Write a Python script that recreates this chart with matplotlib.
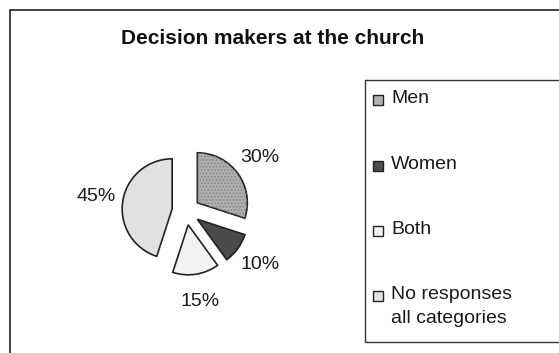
import matplotlib.pyplot as plt
from matplotlib.patches import Rectangle, Wedge

plt.rcParams['font.family'] = ['Liberation Sans', 'DejaVu Sans']
plt.rcParams['hatch.linewidth'] = 0.8

title = 'Decision makers at the church'
labels = ['Men', 'Women', 'Both', 'No responses\nall categories']
shares = [30, 10, 15, 45]
colors = ['#b0b0b0', '#4a4a4a', '#f2f2f2', '#e1e1e1']

W, H = 559, 353
fig = plt.figure(figsize=(W / 100, H / 100), dpi=100)
fig.patch.set_facecolor('white')

# outer frame, running off the right and bottom edges
fig.patches.append(Rectangle((10 / W, -0.1), 1.2, 1.1 - 10 / H,
                             transform=fig.transFigure, fill=False,
                             edgecolor='#333333', linewidth=1.3))

fig.text(273 / W, 1 - 38 / H, title, ha='center', va='center',
         fontsize=15, fontweight='bold', color='#111111')

# pie axes: radius 1 = 50 px
cx, cy = 186, 211
ax = fig.add_axes([(cx - 100) / W, 1 - (cy + 100) / H, 200 / W, 200 / H])

wedges, texts, autotexts = ax.pie(
    shares, colors=colors, startangle=90, counterclock=False,
    explode=[0.28] * 4, radius=1, pctdistance=1.55,
    autopct='%d%%', wedgeprops=dict(edgecolor='#222222', linewidth=1.2))
for t in autotexts:
    t.set_fontsize(14)
    t.set_color('#1a1a1a')

# dotted texture on the "Men" slice
w = wedges[0]
ax.add_patch(Wedge(w.center, w.r, w.theta1, w.theta2, facecolor='none',
                   edgecolor='#858585', linewidth=0, hatch='.....', zorder=w.zorder + 0.1))

ax.set_xlim(-2, 2)
ax.set_ylim(-2, 2)
ax.set_aspect('equal')
ax.axis('off')

# legend box
fig.patches.append(Rectangle((365 / W, 1 - 342 / H), 0.5, (342 - 80) / H,
                             transform=fig.transFigure, fill=False,
                             edgecolor='#333333', linewidth=1.0))
rows = [100, 166, 231, 296]
for lab, col, y in zip(labels, colors, rows):
    fig.patches.append(Rectangle((373 / W, 1 - (y + 5) / H), 10 / W, 10 / H,
                                 transform=fig.transFigure, facecolor=col,
                                 edgecolor='#222222', linewidth=1.0))
    fig.text(391 / W, 1 - (y - 10) / H, lab, ha='left', va='top',
             fontsize=14, color='#1a1a1a', linespacing=1.55)

fig.savefig('out.png', dpi=100)
